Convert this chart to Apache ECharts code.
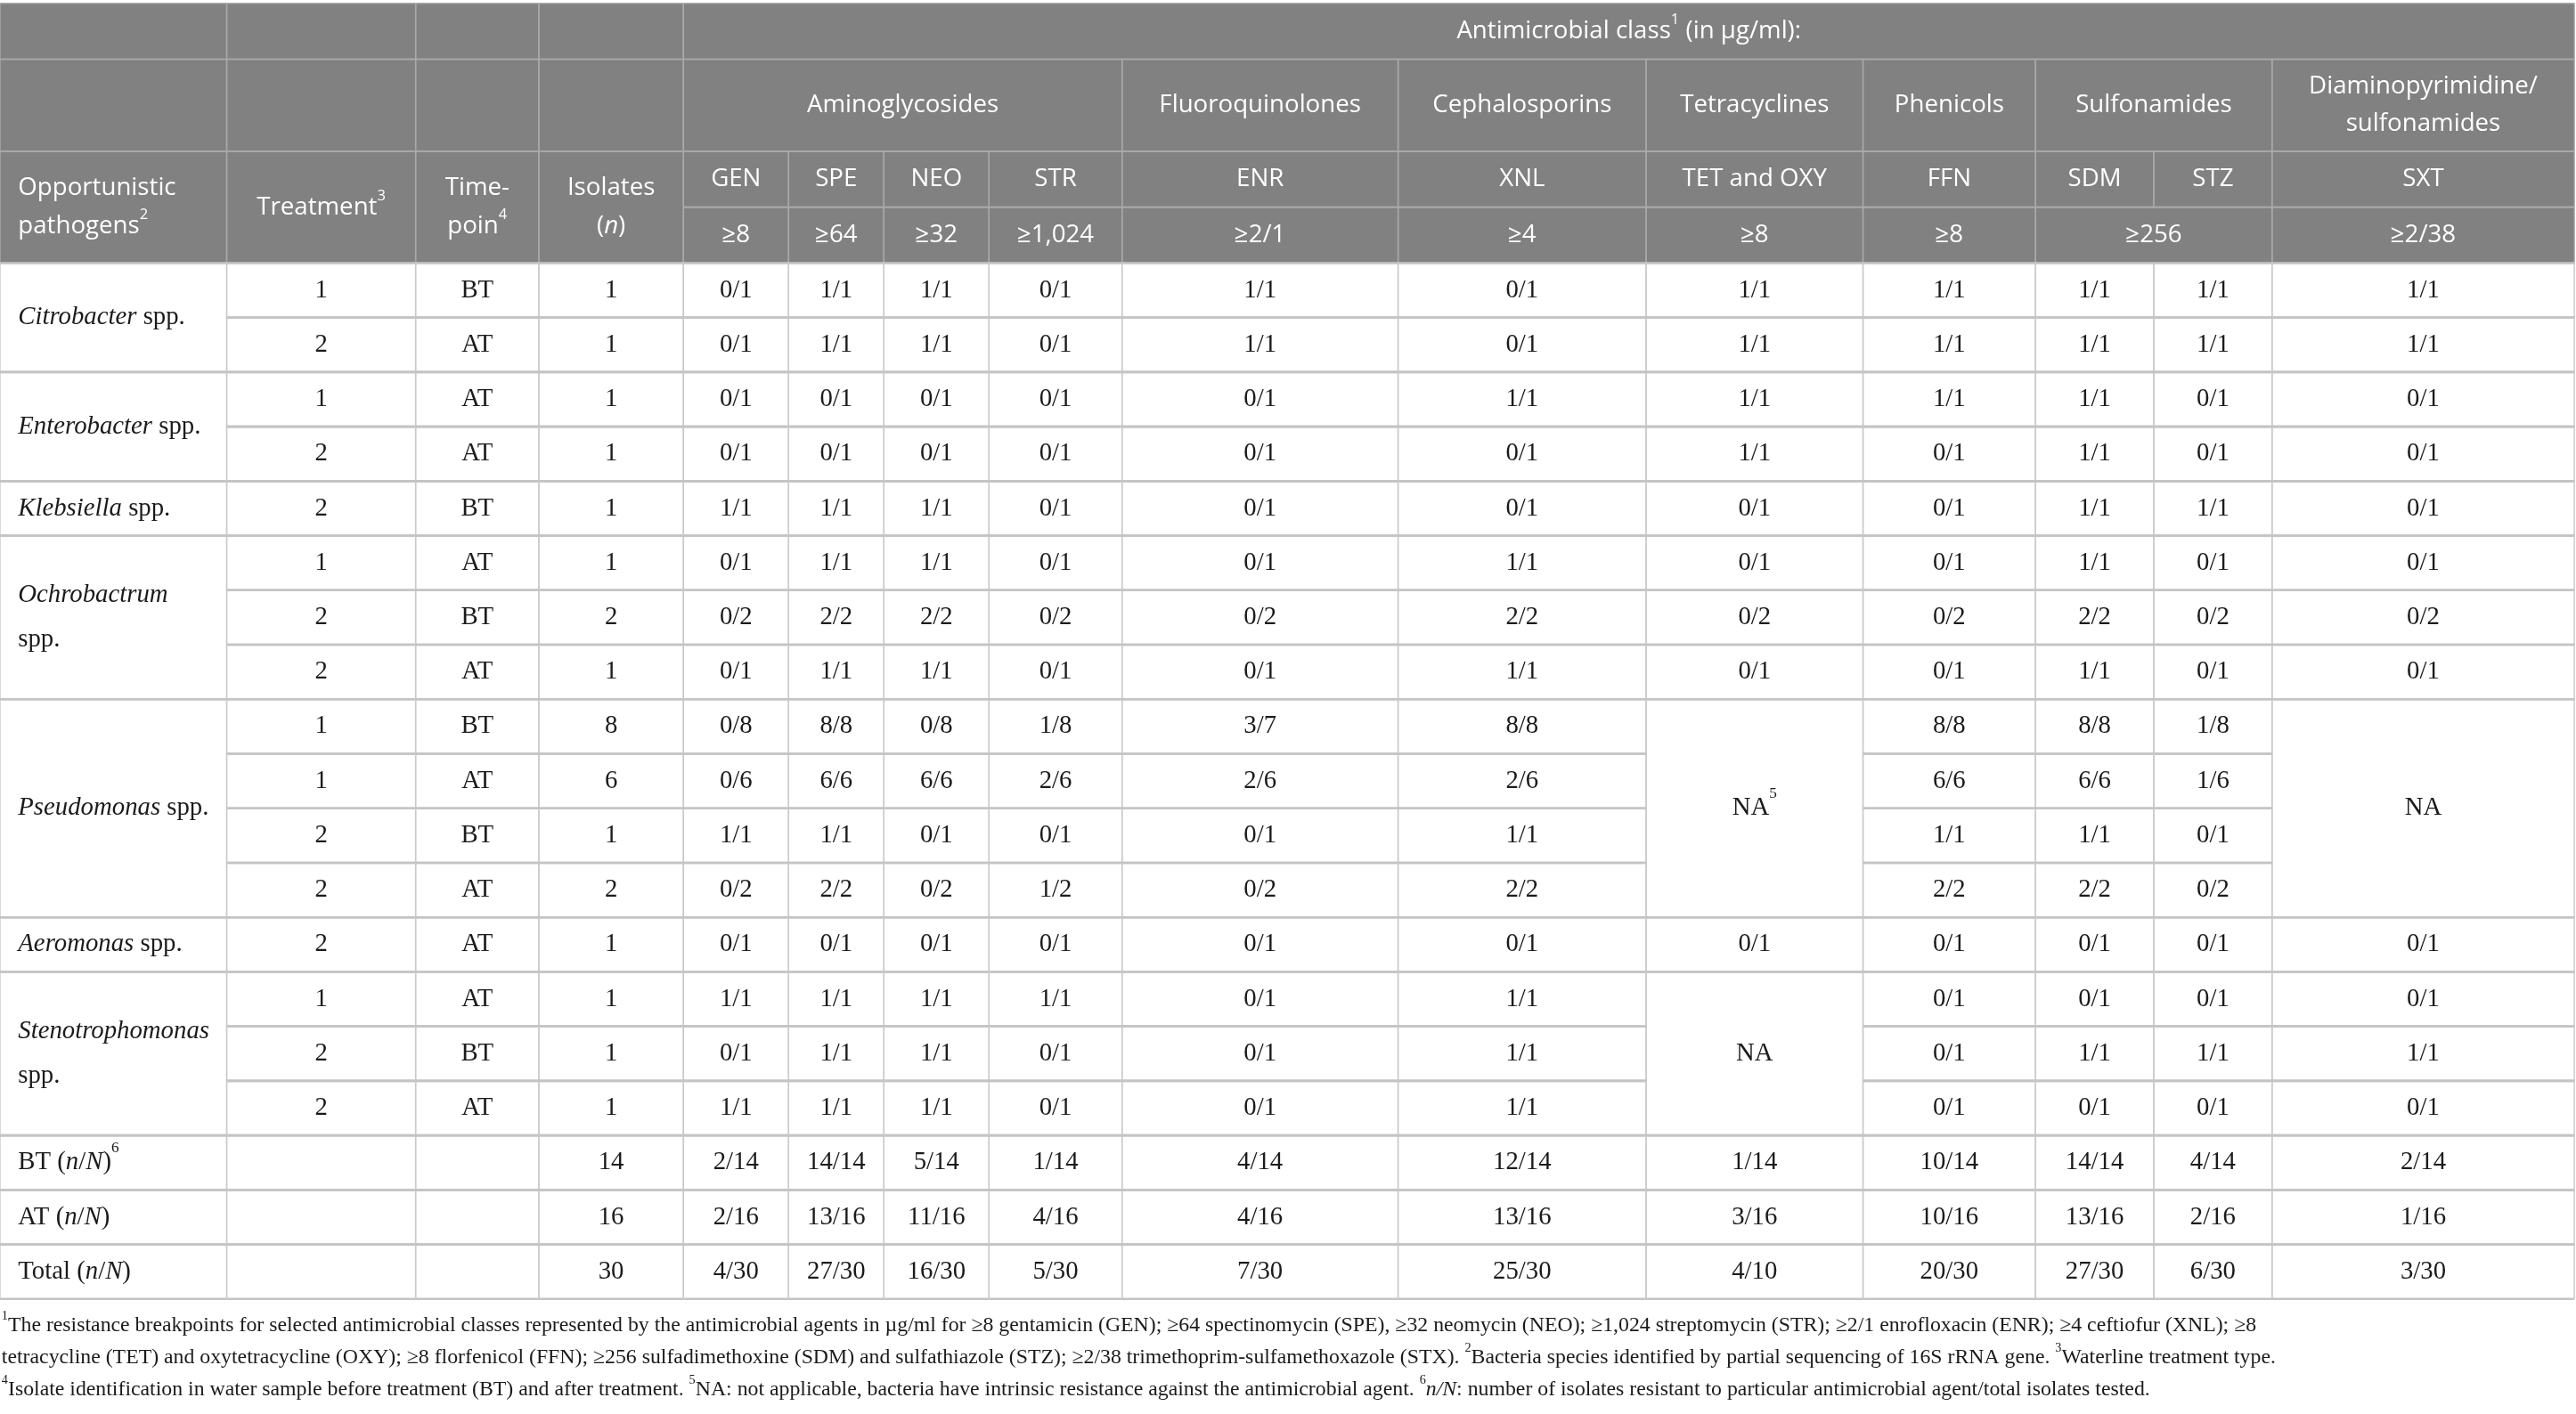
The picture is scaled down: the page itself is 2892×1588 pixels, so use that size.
<!DOCTYPE html>
<html>
<head>
<meta charset="utf-8">
<script src="https://cdn.jsdelivr.net/npm/echarts@6/dist/echarts.min.js"></script>
<style>
html, body { margin: 0; padding: 0; background: #fff; }
#main { width: 2892px; height: 1588px; }
</style>
</head>
<body>
<div id="main"></div>
<script>
// ---- table data ----
var pathogens = ['Citrobacter', 'Enterobacter', 'Klebsiella', 'Ochrobactrum', 'Pseudomonas', 'Aeromonas', 'Stenotrophomonas'];
var pathogenRows = [2, 2, 1, 3, 4, 1, 3];
var twoLine = ['Ochrobactrum', 'Stenotrophomonas'];

var treatment = [1, 2, 1, 2, 2, 1, 2, 2, 1, 1, 2, 2, 2, 1, 2, 2];
var timepoint = ['BT', 'AT', 'AT', 'AT', 'BT', 'AT', 'BT', 'AT', 'BT', 'AT', 'BT', 'AT', 'AT', 'AT', 'BT', 'AT'];
var isolates = [1, 1, 1, 1, 1, 1, 2, 1, 8, 6, 1, 2, 1, 1, 1, 1];

var classes = ['Aminoglycosides', 'Fluoroquinolones', 'Cephalosporins', 'Tetracyclines', 'Phenicols', 'Sulfonamides', 'Diaminopyrimidine/\nsulfonamides'];
var classSpan = [4, 1, 1, 1, 1, 2, 1];
var agents = ['GEN', 'SPE', 'NEO', 'STR', 'ENR', 'XNL', 'TET and OXY', 'FFN', 'SDM', 'STZ', 'SXT'];
var breakpoints = ['≥8', '≥64', '≥32', '≥1,024', '≥2/1', '≥4', '≥8', '≥8', '≥256', '≥2/38'];
var breakpointSpan = [1, 1, 1, 1, 1, 1, 1, 1, 2, 1];

// null = merged with the cell above
var gen = ['0/1', '0/1', '0/1', '0/1', '1/1', '0/1', '0/2', '0/1', '0/8', '0/6', '1/1', '0/2', '0/1', '1/1', '0/1', '1/1'];
var spe = ['1/1', '1/1', '0/1', '0/1', '1/1', '1/1', '2/2', '1/1', '8/8', '6/6', '1/1', '2/2', '0/1', '1/1', '1/1', '1/1'];
var neo = ['1/1', '1/1', '0/1', '0/1', '1/1', '1/1', '2/2', '1/1', '0/8', '6/6', '0/1', '0/2', '0/1', '1/1', '1/1', '1/1'];
var str = ['0/1', '0/1', '0/1', '0/1', '0/1', '0/1', '0/2', '0/1', '1/8', '2/6', '0/1', '1/2', '0/1', '1/1', '0/1', '0/1'];
var enr = ['1/1', '1/1', '0/1', '0/1', '0/1', '0/1', '0/2', '0/1', '3/7', '2/6', '0/1', '0/2', '0/1', '0/1', '0/1', '0/1'];
var xnl = ['0/1', '0/1', '1/1', '0/1', '0/1', '1/1', '2/2', '1/1', '8/8', '2/6', '1/1', '2/2', '0/1', '1/1', '1/1', '1/1'];
var tet = ['1/1', '1/1', '1/1', '1/1', '0/1', '0/1', '0/2', '0/1', 'NA{sup|5}', null, null, null, '0/1', 'NA', null, null];
var ffn = ['1/1', '1/1', '1/1', '0/1', '0/1', '0/1', '0/2', '0/1', '8/8', '6/6', '1/1', '2/2', '0/1', '0/1', '0/1', '0/1'];
var sdm = ['1/1', '1/1', '1/1', '1/1', '1/1', '1/1', '2/2', '1/1', '8/8', '6/6', '1/1', '2/2', '0/1', '0/1', '1/1', '0/1'];
var stz = ['1/1', '1/1', '0/1', '0/1', '1/1', '0/1', '0/2', '0/1', '1/8', '1/6', '0/1', '0/2', '0/1', '0/1', '1/1', '0/1'];
var sxt = ['1/1', '1/1', '0/1', '0/1', '0/1', '0/1', '0/2', '0/1', 'NA', null, null, null, '0/1', '0/1', '1/1', '0/1'];
var agentColumns = [gen, spe, neo, str, enr, xnl, tet, ffn, sdm, stz, sxt];

var summaryLabels = ['BT ({i|n}/{i|N}){sup|6}', 'AT ({i|n}/{i|N})', 'Total ({i|n}/{i|N})'];
var summaryIsolates = [14, 16, 30];
var btTotals = ['2/14', '14/14', '5/14', '1/14', '4/14', '12/14', '1/14', '10/14', '14/14', '4/14', '2/14'];
var atTotals = ['2/16', '13/16', '11/16', '4/16', '4/16', '13/16', '3/16', '10/16', '13/16', '2/16', '1/16'];
var allTotals = ['4/30', '27/30', '16/30', '5/30', '7/30', '25/30', '4/10', '20/30', '27/30', '6/30', '3/30'];
var summaryTotals = [btTotals, atTotals, allTotals];

var footnotes = [
  '{sup|1}The resistance breakpoints for selected antimicrobial classes represented by the antimicrobial agents in µg/ml for ≥8 gentamicin (GEN); ≥64 spectinomycin (SPE), ≥32 neomycin (NEO); ≥1,024 streptomycin (STR); ≥2/1 enrofloxacin (ENR); ≥4 ceftiofur (XNL); ≥8',
  'tetracycline (TET) and oxytetracycline (OXY); ≥8 florfenicol (FFN); ≥256 sulfadimethoxine (SDM) and sulfathiazole (STZ); ≥2/38 trimethoprim-sulfamethoxazole (STX). {sup|2}Bacteria species identified by partial sequencing of 16S rRNA gene. {sup|3}Waterline treatment type.',
  '{sup|4}Isolate identification in water sample before treatment (BT) and after treatment. {sup|5}NA: not applicable, bacteria have intrinsic resistance against the antimicrobial agent. {sup|6}{i|n/N}: number of isolates resistant to particular antimicrobial agent/total isolates tested.'
];

// ---- layout (reference units, 1568 x 860) ----
var colEdges = [0, 138, 253, 328, 416, 480, 538, 602, 683, 851, 1002, 1134, 1239, 1311, 1383, 1567];
var headEdges = [2, 36, 92, 126, 160];
var bodyTop = 160, rowH = 33.16;
var noteY = [806, 825.5, 845];
var HEAD_BG = '#808180', HEAD_LINE = '#a9aaa9', ROW_LINE = '#c4c4c4', COL_LINE = '#c9c9c9';
var HEAD_FONT = '"Open Sans", "Noto Sans", sans-serif';
var BODY_FONT = '"Liberation Serif", "DejaVu Serif", serif';

var cells = [];
function addCell(c0, c1, y0, y1, text, kind, align) {
  cells.push({ x0: colEdges[c0], x1: colEdges[c1 + 1], y0: y0, y1: y1, text: text, kind: kind, align: align || 'center' });
}
function rowY(r) { return bodyTop + r * rowH; }

// header
for (var c = 0; c < 4; c++) {
  addCell(c, c, headEdges[0], headEdges[1], '', 'head');
  addCell(c, c, headEdges[1], headEdges[2], '', 'head');
}
addCell(4, 14, headEdges[0], headEdges[1], 'Antimicrobial class{sup|1} (in μg/ml):', 'head');
var col = 4;
classes.forEach(function (name, k) {
  addCell(col, col + classSpan[k] - 1, headEdges[1], headEdges[2], name, 'head');
  col += classSpan[k];
});
var headLabels = ['Opportunistic\npathogens{sup|2}', 'Treatment{sup|3}', 'Time-\npoin{sup|4}', 'Isolates\n({i|n})'];
headLabels.forEach(function (t, k) {
  addCell(k, k, headEdges[2], headEdges[4], t, 'head', k === 0 ? 'left' : 'center');
});
agents.forEach(function (a, k) {
  addCell(4 + k, 4 + k, headEdges[2], headEdges[3], a, 'head');
});
col = 4;
breakpoints.forEach(function (b, k) {
  addCell(col, col + breakpointSpan[k] - 1, headEdges[3], headEdges[4], b, 'head');
  col += breakpointSpan[k];
});

// body
var r = 0;
pathogens.forEach(function (name, g) {
  var label = '{i|' + name + '}' + (twoLine.indexOf(name) >= 0 ? '\n' : ' ') + 'spp.';
  addCell(0, 0, rowY(r), rowY(r + pathogenRows[g]), label, 'body', 'left');
  r += pathogenRows[g];
});
for (var i = 0; i < treatment.length; i++) {
  addCell(1, 1, rowY(i), rowY(i + 1), String(treatment[i]), 'body');
  addCell(2, 2, rowY(i), rowY(i + 1), timepoint[i], 'body');
  addCell(3, 3, rowY(i), rowY(i + 1), String(isolates[i]), 'body');
  agentColumns.forEach(function (vals, k) {
    if (vals[i] === null) return;
    var span = 1;
    while (i + span < vals.length && vals[i + span] === null) span++;
    addCell(4 + k, 4 + k, rowY(i), rowY(i + span), vals[i], 'body');
  });
}
summaryLabels.forEach(function (lab, k) {
  var ri = treatment.length + k;
  addCell(0, 0, rowY(ri), rowY(ri + 1), lab, 'body', 'left');
  addCell(1, 1, rowY(ri), rowY(ri + 1), '', 'body');
  addCell(2, 2, rowY(ri), rowY(ri + 1), '', 'body');
  addCell(3, 3, rowY(ri), rowY(ri + 1), String(summaryIsolates[k]), 'body');
  summaryTotals[k].forEach(function (v, j) {
    addCell(4 + j, 4 + j, rowY(ri), rowY(ri + 1), v, 'body');
  });
});

// footnotes
footnotes.forEach(function (t, k) {
  cells.push({ x0: 1, x1: 1567, y0: noteY[k] - 9, y1: noteY[k] + 9, text: t, kind: 'note', align: 'left' });
});

function richFor(family, size, color) {
  return {
    i: { fontFamily: family, fontStyle: 'italic', fontSize: size, fill: color },
    sup: { fontFamily: family, fontSize: size * 0.6, fill: color, verticalAlign: 'top', lineHeight: size * 0.6 }
  };
}

function renderCell(params, api) {
  var c = cells[params.dataIndex];
  var p0 = api.coord([api.value(0), api.value(1)]);
  var p1 = api.coord([api.value(2), api.value(3)]);
  var s = api.getWidth() / 1568;
  var x0 = p0[0], y0 = p0[1], x1 = p1[0], y1 = p1[1];
  var children = [];
  var head = c.kind === 'head';

  if (c.kind !== 'note') {
    children.push({ type: 'rect', z2: 0, shape: { x: x0, y: y0, width: x1 - x0, height: y1 - y0 }, style: { fill: head ? HEAD_BG : '#fff' } });
    var hc = head ? HEAD_LINE : ROW_LINE, vc = head ? HEAD_LINE : COL_LINE;
    var hw = head ? 1.6 : 2.6, vw = head ? 1.4 : 1.4;
    [[x0, y0, x1, y0, hc, hw], [x0, y1, x1, y1, hc, hw], [x0, y0, x0, y1, vc, vw], [x1, y0, x1, y1, vc, vw]].forEach(function (l) {
      children.push({ type: 'line', z2: head ? 5 : 10, shape: { x1: l[0], y1: l[1], x2: l[2], y2: l[3] }, style: { stroke: l[4], lineWidth: l[5] } });
    });
  }

  if (c.text) {
    var family = head ? HEAD_FONT : BODY_FONT;
    var size = (head ? 15 : c.kind === 'note' ? 12.9 : 15.6) * s;
    var color = head ? '#ffffff' : '#1b1b1b';
    var lh = (head ? 23 : c.kind === 'note' ? 19 : 27) * s;
    children.push({
      type: 'text', z2: 20,
      style: {
        x: c.align === 'left' ? x0 + (c.kind === 'note' ? 0 : 11 * s) : (x0 + x1) / 2,
        y: (y0 + y1) / 2,
        text: c.text,
        align: c.align,
        verticalAlign: 'middle',
        fontFamily: family,
        fontSize: size,
        lineHeight: lh,
        fill: color,
        rich: richFor(family, size, color)
      }
    });
  }
  return { type: 'group', children: children };
}

var chart = echarts.init(document.getElementById('main'));
chart.setOption({
  animation: false,
  backgroundColor: '#ffffff',
  grid: { left: 0, right: 0, top: 0, bottom: 0 },
  xAxis: { type: 'value', min: 0, max: 1568, show: false },
  yAxis: { type: 'value', min: 0, max: 860, inverse: true, show: false },
  series: [{
    type: 'custom',
    coordinateSystem: 'cartesian2d',
    silent: true,
    clip: false,
    renderItem: renderCell,
    data: cells.map(function (c) { return [c.x0, c.y0, c.x1, c.y1]; })
  }]
});
</script>
</body>
</html>
